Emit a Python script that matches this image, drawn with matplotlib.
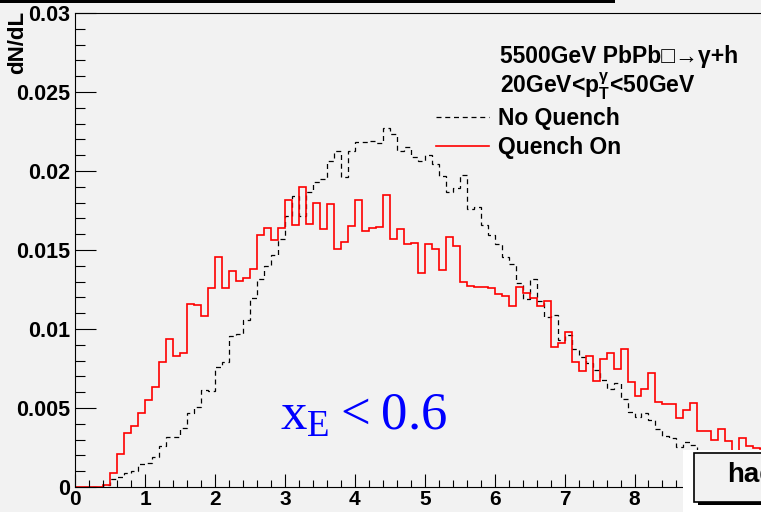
import numpy as np
import matplotlib.pyplot as plt
from matplotlib.ticker import MultipleLocator, FuncFormatter
from matplotlib.patches import Rectangle
from matplotlib.lines import Line2D

plt.rcParams['font.family'] = ['Liberation Sans', 'DejaVu Sans']

# histogram binning: 100 bins from 0 to 10
bin_edges = np.linspace(0, 10, 101)

no_quench = [
    0, 0, 0, 0, 0.0001, 0.0005, 0.00065, 0.0009, 0.001, 0.00146,
    0.00154, 0.00192, 0.00262, 0.00314, 0.00314, 0.00375, 0.0047, 0.00504, 0.00614, 0.00608,
    0.00757, 0.00791, 0.00956, 0.00968, 0.0106, 0.01198, 0.01314, 0.0140, 0.01466, 0.01568,
    0.01715, 0.01842, 0.01715, 0.01869, 0.01932, 0.01947, 0.02065, 0.02128, 0.01964, 0.02128,
    0.02186, 0.02186, 0.0219, 0.02175, 0.0227, 0.02233, 0.02125, 0.02154, 0.02088, 0.02064,
    0.0210, 0.02043, 0.01966, 0.01866, 0.01892, 0.01975, 0.0176, 0.0177, 0.01658, 0.01595,
    0.01538, 0.01458, 0.0141, 0.01289, 0.01189, 0.01315, 0.01179, 0.01076, 0.01088, 0.0093,
    0.00962, 0.00875, 0.00825, 0.00783, 0.00742, 0.0068, 0.0062, 0.00656, 0.00555, 0.00474,
    0.0044, 0.0047, 0.00424, 0.00368, 0.00323, 0.00308, 0.00253, 0.00287, 0.00266, 0.0022,
    0.002, 0.0019, 0.0017, 0.0016, 0.0015, 0.0014, 0.0013, 0.0012, 0.0011, 0.001,
]

quench_on = [
    0, 0, 0, 0, 0.00013, 0.00087, 0.0021, 0.0034, 0.00384, 0.00468,
    0.0055, 0.0063, 0.0079, 0.00937, 0.0083, 0.00846, 0.01156, 0.01152, 0.01082, 0.01258,
    0.01458, 0.01258, 0.01369, 0.01306, 0.01321, 0.01382, 0.01597, 0.01641, 0.01563, 0.01639,
    0.01816, 0.01656, 0.0190, 0.01665, 0.0180, 0.01631, 0.01793, 0.01506, 0.01553, 0.0165,
    0.01816, 0.0162, 0.01637, 0.01648, 0.01848, 0.01572, 0.01635, 0.01536, 0.01546, 0.01356,
    0.01538, 0.01504, 0.01373, 0.01584, 0.01525, 0.01297, 0.01272, 0.01264, 0.01264, 0.01258,
    0.01222, 0.01211, 0.01146, 0.01264, 0.0123, 0.01194, 0.01146, 0.01179, 0.00884, 0.00913,
    0.00979, 0.00789, 0.00734, 0.0083, 0.00673, 0.0081, 0.0085, 0.00745, 0.00872, 0.00663,
    0.00577, 0.00618, 0.00722, 0.00536, 0.00524, 0.00524, 0.00435, 0.00487, 0.00534, 0.00355,
    0.00352, 0.00298, 0.00366, 0.0029, 0.0018, 0.00308, 0.00258, 0.0025, 0.0024, 0.0021,
]

BG = '#f2f2f2'
W, H = 761, 512

fig = plt.figure(figsize=(W / 100, H / 100), dpi=100, facecolor=BG)
# frame spans x 0..10, the right part runs off the canvas like in the original
ax = fig.add_axes([75.3 / W, 25 / H, 699 / W, 474 / H])
ax.set_facecolor(BG)

ax.stairs(no_quench, bin_edges, color='black', lw=0.9, linestyle=(0, (4, 3)))
ax.stairs(quench_on, bin_edges, color='#ff0000', lw=1.2)

ax.set_xlim(0, 10)
ax.set_ylim(0, 0.03)

ax.xaxis.set_major_locator(MultipleLocator(1))
ax.xaxis.set_minor_locator(MultipleLocator(0.2))
ax.yaxis.set_major_locator(MultipleLocator(0.005))
ax.yaxis.set_minor_locator(MultipleLocator(0.001))
ax.yaxis.set_major_formatter(FuncFormatter(lambda v, _: f'{v:g}'))
# labels for 9 and 10 sit under the corner pave / off the canvas, leave them blank
ax.xaxis.set_major_formatter(FuncFormatter(lambda v, _: f'{v:g}' if v < 8.5 else ''))

ax.tick_params(which='both', direction='in', top=False, right=False, width=0.8, color='black')
ax.tick_params(axis='y', which='major', length=15, pad=3.6)
ax.tick_params(axis='y', which='minor', length=7.5)
ax.tick_params(axis='x', which='major', length=9.5, pad=2.4)
ax.tick_params(axis='x', which='minor', length=5)
for lab in ax.get_yticklabels():
    lab.set_fontsize(15.5)
    lab.set_fontweight('bold')
for lab in ax.get_xticklabels():
    lab.set_fontsize(15)
    lab.set_fontweight('bold')

for s in ax.spines.values():
    s.set_linewidth(0.8)

fig.text(28 / W, 1 - 11 / H, 'dN/dL', rotation=90, ha='right', va='top',
         fontsize=16, fontweight='bold')

# header lines and legend
fig.text(500 / W, 1 - 63 / H, '5500GeV PbPb\u25a1\u2192\u03b3+h',
         fontsize=16.5, fontweight='bold', va='baseline')
fig.text(500 / W, 1 - 93 / H, r'20GeV<$\mathregular{p_{T}^{\gamma}}$<50GeV',
         fontsize=16.5, fontweight='bold', va='baseline')

handles = [Line2D([], [], color='black', lw=0.9, linestyle=(0, (4, 3))),
           Line2D([], [], color='#ff0000', lw=1.2)]
ax.legend(handles, ['No Quench', 'Quench On'], loc='upper left',
          bbox_to_anchor=(436 / W, 1 - 107 / H), bbox_transform=fig.transFigure,
          frameon=False, prop={'weight': 'bold', 'size': 16.5},
          handlelength=2.3, handletextpad=0.4, labelspacing=0.25,
          borderpad=0, borderaxespad=0)

ax.text(280 / W, 1 - 430 / H, r'$\mathregular{x_E < 0.6}$', transform=fig.transFigure,
        color='#0000ff', fontsize=38, family='Liberation Serif', fontweight='normal',
        va='baseline')

# canvas decorations: top bar and the "had..." pave in the corner
fig.add_artist(Rectangle((0, 1 - 3 / H), 615 / W, 3 / H, transform=fig.transFigure,
                         facecolor='black', edgecolor='none', zorder=2))
fig.add_artist(Rectangle((683 / W, 0), 80 / W, 62 / H, transform=fig.transFigure,
                         facecolor='white', edgecolor='none', zorder=2))
fig.add_artist(Rectangle((698 / W, 7 / H), 80 / W, 45 / H, transform=fig.transFigure,
                         facecolor='black', edgecolor='none', zorder=3))
fig.add_artist(Rectangle((694 / W, 10 / H), 80 / W, 49 / H, transform=fig.transFigure,
                         facecolor=BG, edgecolor='black', lw=1.2, zorder=4))
fig.text(727 / W, 30 / H, 'had', fontsize=20, fontweight='bold', va='baseline', zorder=5)

fig.savefig('out.png', dpi=100, facecolor=BG)
